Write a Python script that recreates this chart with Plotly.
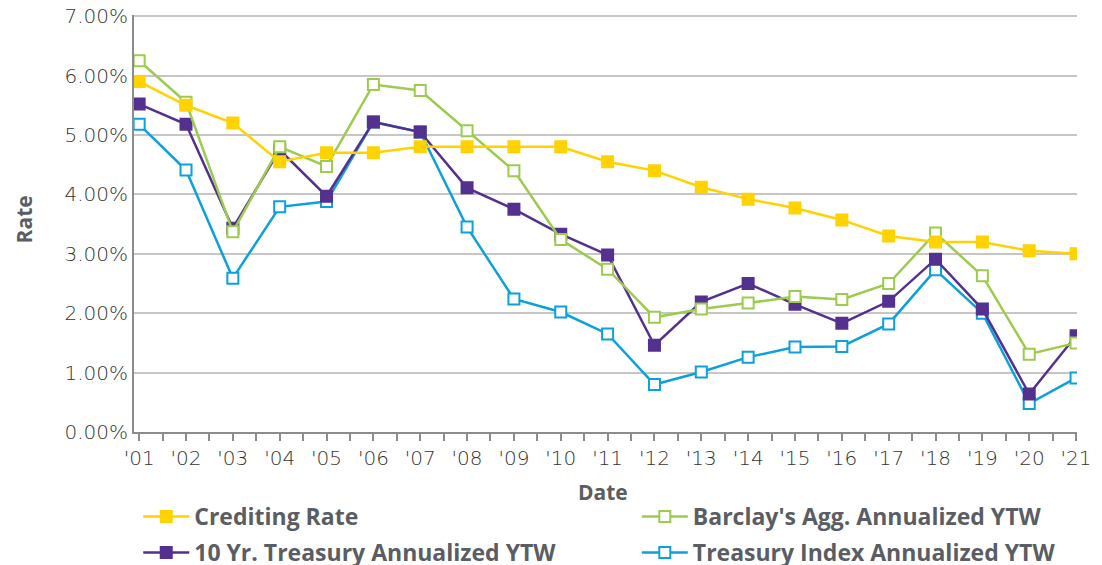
import plotly.graph_objects as go

years = ["'01", "'02", "'03", "'04", "'05", "'06", "'07", "'08", "'09", "'10",
         "'11", "'12", "'13", "'14", "'15", "'16", "'17", "'18", "'19", "'20", "'21"]

crediting = [5.90, 5.50, 5.20, 4.55, 4.70, 4.70, 4.80, 4.80, 4.80, 4.80,
             4.55, 4.40, 4.12, 3.92, 3.77, 3.57, 3.30, 3.20, 3.20, 3.05, 3.00]
barclays = [6.25, 5.55, 3.37, 4.80, 4.47, 5.85, 5.75, 5.07, 4.40, 3.24,
            2.74, 1.93, 2.07, 2.17, 2.28, 2.23, 2.50, 3.35, 2.63, 1.31, 1.50]
ten_yr = [5.52, 5.18, 3.43, 4.75, 3.97, 5.22, 5.05, 4.11, 3.75, 3.33,
          2.98, 1.46, 2.19, 2.50, 2.15, 1.83, 2.20, 2.91, 2.07, 0.64, 1.62]
treasury = [5.18, 4.41, 2.59, 3.79, 3.88, 5.22, 5.05, 3.45, 2.24, 2.02,
            1.65, 0.80, 1.01, 1.26, 1.43, 1.44, 1.82, 2.73, 2.00, 0.48, 0.91]

y_ticks = [0, 1, 2, 3, 4, 5, 6, 7]

YELLOW = "#FFD200"
GREEN = "#9CCB4E"
PURPLE = "#54308F"
BLUE = "#0CA0DC"
TITLE_GRAY = "#5A5D63"
TICK_FONT = dict(family="DejaVu Sans", size=20, color="#333333", weight=200)

x = list(range(len(years)))

fig = go.Figure()

def add(name, vals, color, filled, rank, legend):
    fig.add_trace(go.Scatter(
        x=x, y=vals, name=name, mode="lines+markers",
        line=dict(color=color, width=2.5),
        marker=dict(symbol="square", size=11,
                    color=color if filled else "white",
                    line=dict(color=color, width=2)),
        legendrank=rank, legend=legend, legendgroup=name,
    ))

add("Treasury Index Annualized YTW", treasury, BLUE, False, 2, "legend2")
add("10 Yr. Treasury Annualized YTW", ten_yr, PURPLE, True, 2, "legend")
add("Barclay's Agg. Annualized YTW", barclays, GREEN, False, 1, "legend2")
add("Crediting Rate", crediting, YELLOW, True, 1, "legend")

tickvals = []
ticktext = []
for i, lab in enumerate(years):
    tickvals.append(i)
    ticktext.append(lab)
    if i < len(years) - 1:
        tickvals.append(i + 0.5)
        ticktext.append("")

legend_font = dict(family="Open Sans", size=23, color=TITLE_GRAY, weight="bold")
title_font = dict(family="Open Sans", size=21, color=TITLE_GRAY, weight="bold")

# the page body offsets the figure by 8px; margins compensate
fig.update_layout(
    width=1102, height=565,
    margin=dict(l=126, r=33, t=7, b=141, autoexpand=False),
    paper_bgcolor="white", plot_bgcolor="white",
    font=dict(family="Open Sans", color="#333333"),
    showlegend=True,
    legend=dict(
        orientation="v", x=0.0045, xanchor="left", yref="container", y=0.138, yanchor="top",
        font=legend_font, traceorder="grouped", tracegroupgap=3, itemwidth=46,
        bgcolor="rgba(0,0,0,0)",
    ),
    legend2=dict(
        orientation="v", x=0.5332, xanchor="left", yref="container", y=0.138, yanchor="top",
        font=legend_font, traceorder="grouped", tracegroupgap=3, itemwidth=46,
        bgcolor="rgba(0,0,0,0)",
    ),
    xaxis=dict(
        range=[-0.11, 20.02], tickmode="array", tickvals=tickvals, ticktext=ticktext,
        showgrid=False, showline=True, linecolor="#8a8c90", linewidth=2,
        ticks="outside", ticklen=7, tickwidth=1.5, tickcolor="#8a8c90",
        tickfont=TICK_FONT, ticklabeloverflow="allow",
        zeroline=False,
    ),
    yaxis=dict(
        range=[0, 7.02], tickmode="array", tickvals=y_ticks,
        ticktext=[f"{v:.2f}%" for v in y_ticks],
        showgrid=True, gridcolor="#C6C6C6", gridwidth=1.5,
        showline=True, linecolor="#8a8c90", linewidth=2,
        tickfont=TICK_FONT, ticklabeloverflow="allow",
        zeroline=False, ticks="",
    ),
    annotations=[
        dict(text="Date", xref="paper", yref="paper", x=0.497, y=-0.144,
             xanchor="center", yanchor="middle", showarrow=False, font=title_font),
        dict(text="Rate", xref="paper", yref="paper", x=-0.1166, y=0.51,
             xanchor="center", yanchor="middle", showarrow=False, textangle=-90,
             font=title_font),
    ],
)

fig.write_html("out.html")
